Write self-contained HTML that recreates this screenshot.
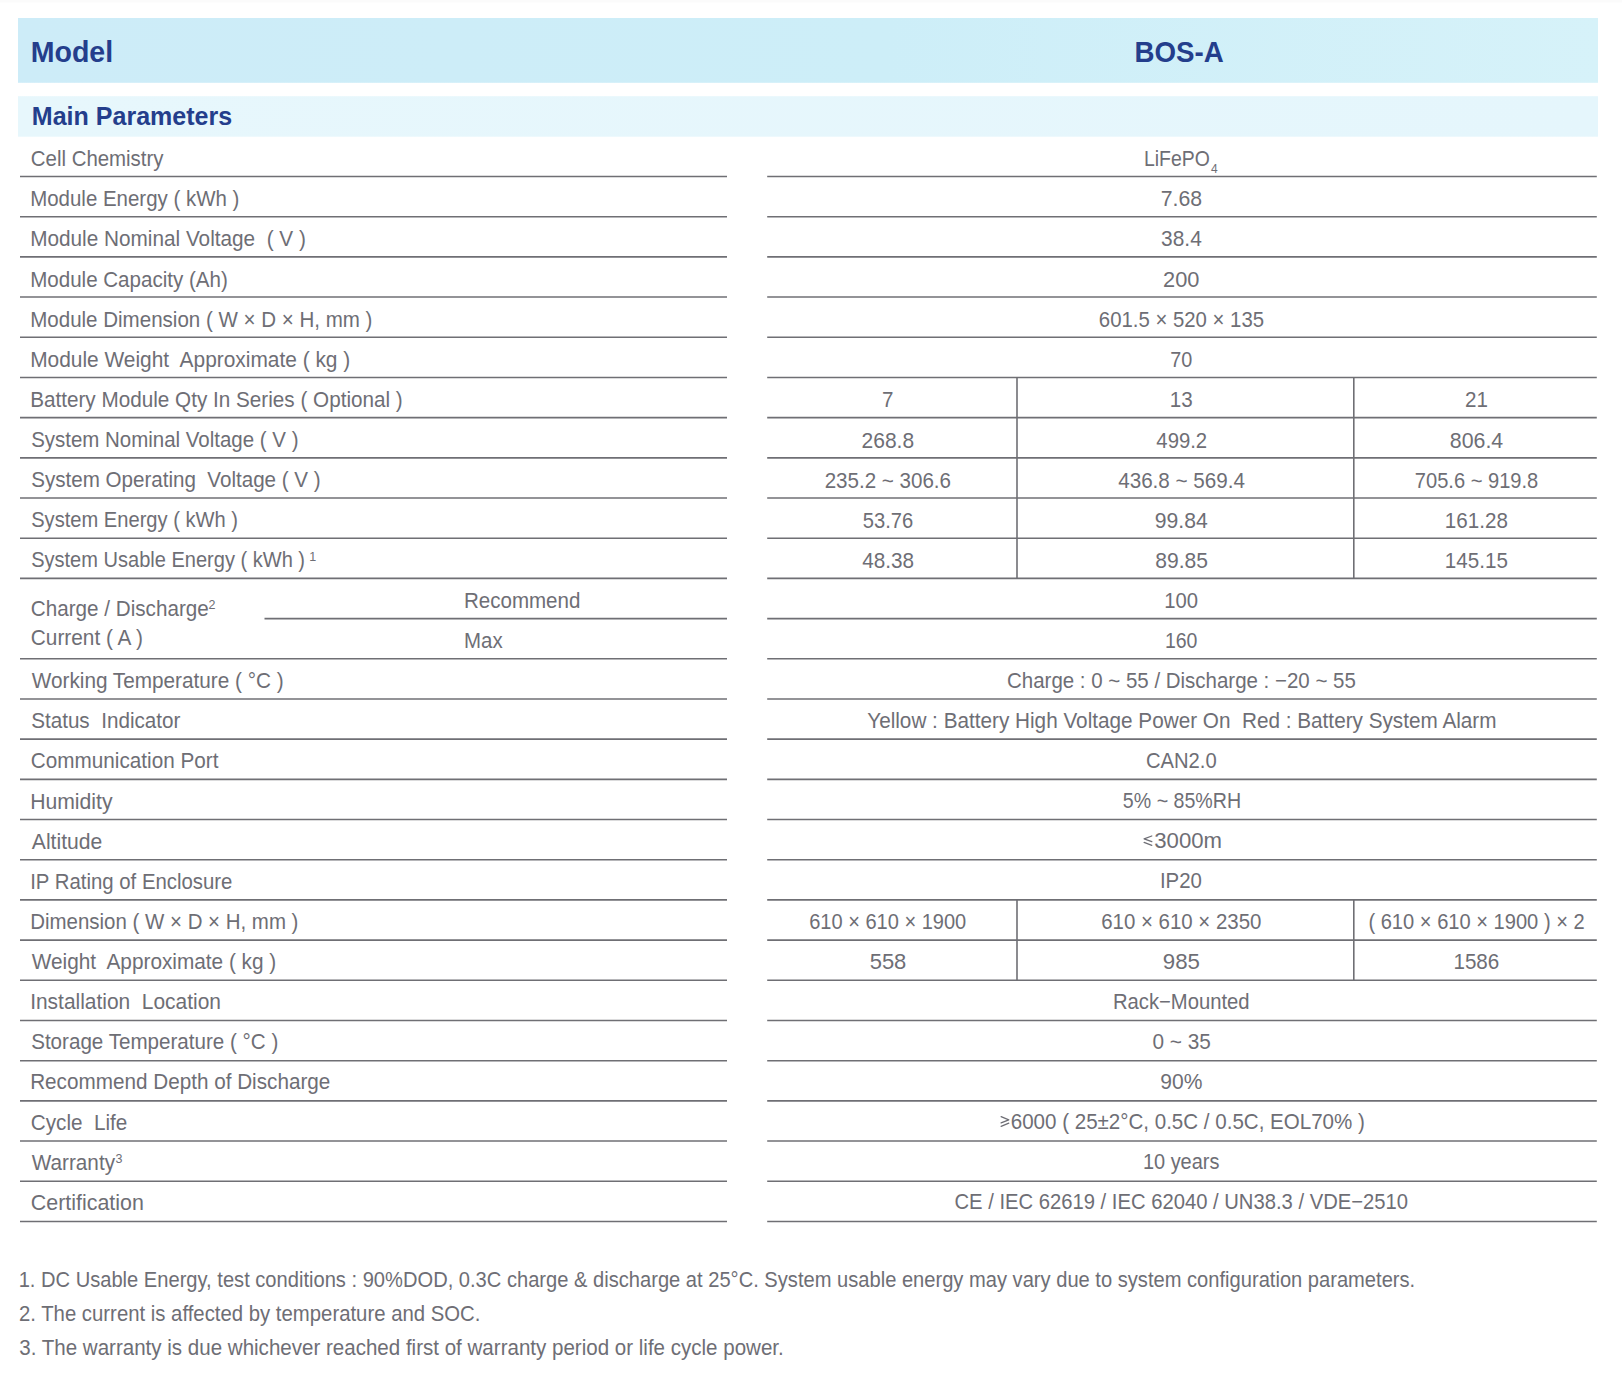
<!DOCTYPE html>
<html><head><meta charset="utf-8"><title>BOS-A</title>
<style>
html,body{margin:0;padding:0;background:#fff;width:1622px;height:1380px;overflow:hidden}
svg{position:absolute;left:0;top:0;display:block}
text{font-family:"Liberation Sans",sans-serif;white-space:pre}
</style></head><body>
<svg width="1622" height="1380" viewBox="0 0 1622 1380">
<defs>
<linearGradient id="g1" x1="0" x2="1" y1="0" y2="0">
<stop offset="0" stop-color="#cdecf8"/><stop offset="0.55" stop-color="#cdeef8"/><stop offset="1" stop-color="#d6f2f9"/>
</linearGradient>
<linearGradient id="g2" x1="0" x2="1" y1="0" y2="0">
<stop offset="0" stop-color="#e7f7fc"/><stop offset="1" stop-color="#e5f6fc"/>
</linearGradient>
</defs>
<rect x="0" y="0" width="1622" height="2.5" fill="#fbfbfb"/>
<rect x="18" y="18" width="1580" height="64.8" fill="url(#g1)"/>
<rect x="18" y="96.2" width="1580" height="40.5" fill="url(#g2)"/>
<path d="M1151.8,836.0 L1144.1,838.8 L1151.8,841.7 M1144.1,842.4 L1151.8,845.3 M1001.1,1116.7 L1008.8,1119.8 L1001.1,1122.9 M1001.1,1126.3 L1008.8,1123.2" stroke="#6e6e75" stroke-width="1.25" fill="none" stroke-linecap="round" stroke-linejoin="round"/>
<g stroke="#6f6f74" stroke-width="1.6" fill="none">
<line x1="20" x2="727" y1="176.50" y2="176.50"/>
<line x1="767.2" x2="1596.8" y1="176.50" y2="176.50"/>
<line x1="20" x2="727" y1="216.69" y2="216.69"/>
<line x1="767.2" x2="1596.8" y1="216.69" y2="216.69"/>
<line x1="20" x2="727" y1="256.88" y2="256.88"/>
<line x1="767.2" x2="1596.8" y1="256.88" y2="256.88"/>
<line x1="20" x2="727" y1="297.07" y2="297.07"/>
<line x1="767.2" x2="1596.8" y1="297.07" y2="297.07"/>
<line x1="20" x2="727" y1="337.26" y2="337.26"/>
<line x1="767.2" x2="1596.8" y1="337.26" y2="337.26"/>
<line x1="20" x2="727" y1="377.45" y2="377.45"/>
<line x1="767.2" x2="1596.8" y1="377.45" y2="377.45"/>
<line x1="20" x2="727" y1="417.64" y2="417.64"/>
<line x1="767.2" x2="1596.8" y1="417.64" y2="417.64"/>
<line x1="20" x2="727" y1="457.83" y2="457.83"/>
<line x1="767.2" x2="1596.8" y1="457.83" y2="457.83"/>
<line x1="20" x2="727" y1="498.02" y2="498.02"/>
<line x1="767.2" x2="1596.8" y1="498.02" y2="498.02"/>
<line x1="20" x2="727" y1="538.21" y2="538.21"/>
<line x1="767.2" x2="1596.8" y1="538.21" y2="538.21"/>
<line x1="20" x2="727" y1="578.40" y2="578.40"/>
<line x1="767.2" x2="1596.8" y1="578.40" y2="578.40"/>
<line x1="264.5" x2="727" y1="618.59" y2="618.59"/>
<line x1="767.2" x2="1596.8" y1="618.59" y2="618.59"/>
<line x1="20" x2="727" y1="658.78" y2="658.78"/>
<line x1="767.2" x2="1596.8" y1="658.78" y2="658.78"/>
<line x1="20" x2="727" y1="698.97" y2="698.97"/>
<line x1="767.2" x2="1596.8" y1="698.97" y2="698.97"/>
<line x1="20" x2="727" y1="739.16" y2="739.16"/>
<line x1="767.2" x2="1596.8" y1="739.16" y2="739.16"/>
<line x1="20" x2="727" y1="779.35" y2="779.35"/>
<line x1="767.2" x2="1596.8" y1="779.35" y2="779.35"/>
<line x1="20" x2="727" y1="819.54" y2="819.54"/>
<line x1="767.2" x2="1596.8" y1="819.54" y2="819.54"/>
<line x1="20" x2="727" y1="859.73" y2="859.73"/>
<line x1="767.2" x2="1596.8" y1="859.73" y2="859.73"/>
<line x1="20" x2="727" y1="899.92" y2="899.92"/>
<line x1="767.2" x2="1596.8" y1="899.92" y2="899.92"/>
<line x1="20" x2="727" y1="940.11" y2="940.11"/>
<line x1="767.2" x2="1596.8" y1="940.11" y2="940.11"/>
<line x1="20" x2="727" y1="980.30" y2="980.30"/>
<line x1="767.2" x2="1596.8" y1="980.30" y2="980.30"/>
<line x1="20" x2="727" y1="1020.49" y2="1020.49"/>
<line x1="767.2" x2="1596.8" y1="1020.49" y2="1020.49"/>
<line x1="20" x2="727" y1="1060.68" y2="1060.68"/>
<line x1="767.2" x2="1596.8" y1="1060.68" y2="1060.68"/>
<line x1="20" x2="727" y1="1100.87" y2="1100.87"/>
<line x1="767.2" x2="1596.8" y1="1100.87" y2="1100.87"/>
<line x1="20" x2="727" y1="1141.06" y2="1141.06"/>
<line x1="767.2" x2="1596.8" y1="1141.06" y2="1141.06"/>
<line x1="20" x2="727" y1="1181.25" y2="1181.25"/>
<line x1="767.2" x2="1596.8" y1="1181.25" y2="1181.25"/>
<line x1="20" x2="727" y1="1221.44" y2="1221.44"/>
<line x1="767.2" x2="1596.8" y1="1221.44" y2="1221.44"/>
<line x1="1017" x2="1017" y1="377.45" y2="578.40"/>
<line x1="1017" x2="1017" y1="899.92" y2="980.30"/>
<line x1="1353.8" x2="1353.8" y1="377.45" y2="578.40"/>
<line x1="1353.8" x2="1353.8" y1="899.92" y2="980.30"/>
</g>
<g>
<text x="30.72" y="62.20" font-size="30" font-weight="bold" fill="#243e8c" textLength="82.47" lengthAdjust="spacingAndGlyphs">Model</text>
<text x="1134.47" y="62.20" font-size="30" font-weight="bold" fill="#243e8c" textLength="89.26" lengthAdjust="spacingAndGlyphs">BOS-A</text>
<text x="31.84" y="124.60" font-size="25.7" font-weight="bold" fill="#243e8c" textLength="200.38" lengthAdjust="spacingAndGlyphs">Main Parameters</text>
<text x="30.84" y="166.00" font-size="21.5" fill="#6e6e75" textLength="132.66" lengthAdjust="spacingAndGlyphs">Cell Chemistry</text>
<text x="30.20" y="206.00" font-size="21.5" fill="#6e6e75" textLength="209.16" lengthAdjust="spacingAndGlyphs">Module Energy ( kWh )</text>
<text x="30.18" y="246.00" font-size="21.5" fill="#6e6e75" textLength="275.70" lengthAdjust="spacingAndGlyphs">Module Nominal Voltage  ( V )</text>
<text x="30.19" y="287.00" font-size="21.5" fill="#6e6e75" textLength="197.57" lengthAdjust="spacingAndGlyphs">Module Capacity (Ah)</text>
<text x="30.20" y="327.00" font-size="21.5" fill="#6e6e75" textLength="342.27" lengthAdjust="spacingAndGlyphs">Module Dimension ( W × D × H, mm )</text>
<text x="30.17" y="367.00" font-size="21.5" fill="#6e6e75" textLength="320.10" lengthAdjust="spacingAndGlyphs">Module Weight  Approximate ( kg )</text>
<text x="30.18" y="407.00" font-size="21.5" fill="#6e6e75" textLength="372.59" lengthAdjust="spacingAndGlyphs">Battery Module Qty In Series ( Optional )</text>
<text x="31.16" y="447.00" font-size="21.5" fill="#6e6e75" textLength="267.30" lengthAdjust="spacingAndGlyphs">System Nominal Voltage ( V )</text>
<text x="31.16" y="487.00" font-size="21.5" fill="#6e6e75" textLength="289.51" lengthAdjust="spacingAndGlyphs">System Operating  Voltage ( V )</text>
<text x="31.17" y="527.00" font-size="21.5" fill="#6e6e75" textLength="206.87" lengthAdjust="spacingAndGlyphs">System Energy ( kWh )</text>
<text x="31.17" y="567.00" font-size="21.5" fill="#6e6e75" textLength="273.86" lengthAdjust="spacingAndGlyphs">System Usable Energy ( kWh )</text>
<text x="31.80" y="688.00" font-size="21.5" fill="#6e6e75" textLength="251.87" lengthAdjust="spacingAndGlyphs">Working Temperature ( °C )</text>
<text x="31.15" y="728.00" font-size="21.5" fill="#6e6e75" textLength="149.25" lengthAdjust="spacingAndGlyphs">Status  Indicator</text>
<text x="30.83" y="768.00" font-size="21.5" fill="#6e6e75" textLength="187.60" lengthAdjust="spacingAndGlyphs">Communication Port</text>
<text x="30.15" y="809.00" font-size="21.5" fill="#6e6e75" textLength="82.35" lengthAdjust="spacingAndGlyphs">Humidity</text>
<text x="31.80" y="849.00" font-size="21.5" fill="#6e6e75" textLength="70.46" lengthAdjust="spacingAndGlyphs">Altitude</text>
<text x="30.21" y="889.00" font-size="21.5" fill="#6e6e75" textLength="202.21" lengthAdjust="spacingAndGlyphs">IP Rating of Enclosure</text>
<text x="30.20" y="929.00" font-size="21.5" fill="#6e6e75" textLength="268.26" lengthAdjust="spacingAndGlyphs">Dimension ( W × D × H, mm )</text>
<text x="31.80" y="969.00" font-size="21.5" fill="#6e6e75" textLength="244.47" lengthAdjust="spacingAndGlyphs">Weight  Approximate ( kg )</text>
<text x="30.16" y="1009.00" font-size="21.5" fill="#6e6e75" textLength="190.81" lengthAdjust="spacingAndGlyphs">Installation  Location</text>
<text x="31.16" y="1049.00" font-size="21.5" fill="#6e6e75" textLength="247.11" lengthAdjust="spacingAndGlyphs">Storage Temperature ( °C )</text>
<text x="30.18" y="1089.00" font-size="21.5" fill="#6e6e75" textLength="300.15" lengthAdjust="spacingAndGlyphs">Recommend Depth of Discharge</text>
<text x="30.83" y="1130.00" font-size="21.5" fill="#6e6e75" textLength="96.51" lengthAdjust="spacingAndGlyphs">Cycle  Life</text>
<text x="31.80" y="1170.00" font-size="21.5" fill="#6e6e75" textLength="83.20" lengthAdjust="spacingAndGlyphs">Warranty</text>
<text x="30.80" y="1210.00" font-size="21.5" fill="#6e6e75" textLength="113.01" lengthAdjust="spacingAndGlyphs">Certification</text>
<text x="309.22" y="561.00" font-size="12.5" fill="#6e6e75" textLength="6.95" lengthAdjust="spacingAndGlyphs">1</text>
<text x="115.41" y="1162.60" font-size="12.5" fill="#6e6e75" textLength="6.95" lengthAdjust="spacingAndGlyphs">3</text>
<text x="30.83" y="616.00" font-size="21.5" fill="#6e6e75" textLength="177.90" lengthAdjust="spacingAndGlyphs">Charge / Discharge</text>
<text x="208.41" y="609.00" font-size="12.5" fill="#6e6e75" textLength="6.95" lengthAdjust="spacingAndGlyphs">2</text>
<text x="30.84" y="644.60" font-size="21.5" fill="#6e6e75" textLength="112.21" lengthAdjust="spacingAndGlyphs">Current ( A )</text>
<text x="464.00" y="608.00" font-size="21.5" fill="#6e6e75" textLength="116.36" lengthAdjust="spacingAndGlyphs">Recommend</text>
<text x="464.00" y="648.00" font-size="21.5" fill="#6e6e75" textLength="38.60" lengthAdjust="spacingAndGlyphs">Max</text>
<text x="1160.75" y="206.00" font-size="21.5" fill="#6e6e75" textLength="41.36" lengthAdjust="spacingAndGlyphs">7.68</text>
<text x="1161.10" y="246.00" font-size="21.5" fill="#6e6e75" textLength="40.67" lengthAdjust="spacingAndGlyphs">38.4</text>
<text x="1163.08" y="287.00" font-size="21.5" fill="#6e6e75" textLength="36.36" lengthAdjust="spacingAndGlyphs">200</text>
<text x="1098.85" y="327.00" font-size="21.5" fill="#6e6e75" textLength="165.18" lengthAdjust="spacingAndGlyphs">601.5 × 520 × 135</text>
<text x="1170.27" y="367.00" font-size="21.5" fill="#6e6e75" textLength="22.02" lengthAdjust="spacingAndGlyphs">70</text>
<text x="882.10" y="407.00" font-size="21.5" fill="#6e6e75" textLength="11.46" lengthAdjust="spacingAndGlyphs">7</text>
<text x="1169.81" y="407.00" font-size="21.5" fill="#6e6e75" textLength="22.92" lengthAdjust="spacingAndGlyphs">13</text>
<text x="1465.07" y="407.00" font-size="21.5" fill="#6e6e75" textLength="22.92" lengthAdjust="spacingAndGlyphs">21</text>
<text x="861.57" y="448.00" font-size="21.5" fill="#6e6e75" textLength="52.53" lengthAdjust="spacingAndGlyphs">268.8</text>
<text x="1156.33" y="448.00" font-size="21.5" fill="#6e6e75" textLength="50.84" lengthAdjust="spacingAndGlyphs">499.2</text>
<text x="1449.83" y="448.00" font-size="21.5" fill="#6e6e75" textLength="53.40" lengthAdjust="spacingAndGlyphs">806.4</text>
<text x="824.64" y="488.00" font-size="21.5" fill="#6e6e75" textLength="126.40" lengthAdjust="spacingAndGlyphs">235.2 ~ 306.6</text>
<text x="1118.18" y="488.00" font-size="21.5" fill="#6e6e75" textLength="126.84" lengthAdjust="spacingAndGlyphs">436.8 ~ 569.4</text>
<text x="1414.81" y="488.00" font-size="21.5" fill="#6e6e75" textLength="123.46" lengthAdjust="spacingAndGlyphs">705.6 ~ 919.8</text>
<text x="862.77" y="528.00" font-size="21.5" fill="#6e6e75" textLength="50.45" lengthAdjust="spacingAndGlyphs">53.76</text>
<text x="1154.81" y="528.00" font-size="21.5" fill="#6e6e75" textLength="52.92" lengthAdjust="spacingAndGlyphs">99.84</text>
<text x="1444.86" y="528.00" font-size="21.5" fill="#6e6e75" textLength="63.02" lengthAdjust="spacingAndGlyphs">161.28</text>
<text x="862.23" y="568.00" font-size="21.5" fill="#6e6e75" textLength="51.86" lengthAdjust="spacingAndGlyphs">48.38</text>
<text x="1155.24" y="568.00" font-size="21.5" fill="#6e6e75" textLength="52.71" lengthAdjust="spacingAndGlyphs">89.85</text>
<text x="1444.86" y="568.00" font-size="21.5" fill="#6e6e75" textLength="63.02" lengthAdjust="spacingAndGlyphs">145.15</text>
<text x="1164.24" y="608.00" font-size="21.5" fill="#6e6e75" textLength="33.77" lengthAdjust="spacingAndGlyphs">100</text>
<text x="1164.88" y="648.00" font-size="21.5" fill="#6e6e75" textLength="32.50" lengthAdjust="spacingAndGlyphs">160</text>
<text x="1007.04" y="688.00" font-size="21.5" fill="#6e6e75" textLength="348.79" lengthAdjust="spacingAndGlyphs">Charge : 0 ~ 55 / Discharge : −20 ~ 55</text>
<text x="867.23" y="728.00" font-size="21.5" fill="#6e6e75" textLength="629.29" lengthAdjust="spacingAndGlyphs">Yellow : Battery High Voltage Power On  Red : Battery System Alarm</text>
<text x="1145.90" y="768.00" font-size="21.5" fill="#6e6e75" textLength="70.75" lengthAdjust="spacingAndGlyphs">CAN2.0</text>
<text x="1122.84" y="808.00" font-size="21.5" fill="#6e6e75" textLength="118.31" lengthAdjust="spacingAndGlyphs">5% ~ 85%RH</text>
<text x="1159.95" y="888.00" font-size="21.5" fill="#6e6e75" textLength="42.00" lengthAdjust="spacingAndGlyphs">IP20</text>
<text x="809.16" y="929.00" font-size="21.5" fill="#6e6e75" textLength="157.04" lengthAdjust="spacingAndGlyphs">610 × 610 × 1900</text>
<text x="1101.19" y="929.00" font-size="21.5" fill="#6e6e75" textLength="160.17" lengthAdjust="spacingAndGlyphs">610 × 610 × 2350</text>
<text x="1368.41" y="929.00" font-size="21.5" fill="#6e6e75" textLength="216.26" lengthAdjust="spacingAndGlyphs">( 610 × 610 × 1900 ) × 2</text>
<text x="869.66" y="969.00" font-size="21.5" fill="#6e6e75" textLength="36.68" lengthAdjust="spacingAndGlyphs">558</text>
<text x="1162.86" y="969.00" font-size="21.5" fill="#6e6e75" textLength="37.15" lengthAdjust="spacingAndGlyphs">985</text>
<text x="1453.45" y="969.00" font-size="21.5" fill="#6e6e75" textLength="45.84" lengthAdjust="spacingAndGlyphs">1586</text>
<text x="1112.92" y="1009.00" font-size="21.5" fill="#6e6e75" textLength="136.72" lengthAdjust="spacingAndGlyphs">Rack−Mounted</text>
<text x="1152.45" y="1049.00" font-size="21.5" fill="#6e6e75" textLength="58.29" lengthAdjust="spacingAndGlyphs">0 ~ 35</text>
<text x="1160.26" y="1089.00" font-size="21.5" fill="#6e6e75" textLength="42.11" lengthAdjust="spacingAndGlyphs">90%</text>
<text x="1142.95" y="1169.00" font-size="21.5" fill="#6e6e75" textLength="76.47" lengthAdjust="spacingAndGlyphs">10 years</text>
<text x="954.45" y="1209.00" font-size="21.5" fill="#6e6e75" textLength="453.65" lengthAdjust="spacingAndGlyphs">CE / IEC 62619 / IEC 62040 / UN38.3 / VDE−2510</text>
<text x="1154.31" y="848.00" font-size="21.5" fill="#6e6e75" textLength="67.74" lengthAdjust="spacingAndGlyphs">3000m</text>
<text x="1010.74" y="1129.00" font-size="21.5" fill="#6e6e75" textLength="354.13" lengthAdjust="spacingAndGlyphs">6000 ( 25±2°C, 0.5C / 0.5C, EOL70% )</text>
<text x="1143.98" y="166.00" font-size="21.5" fill="#6e6e75" textLength="65.86" lengthAdjust="spacingAndGlyphs">LiFePO</text>
<text x="1211.01" y="173.00" font-size="12" fill="#6e6e75" textLength="6.67" lengthAdjust="spacingAndGlyphs">4</text>
<text x="18.64" y="1287.00" font-size="21.5" fill="#6e6e75" textLength="1396.57" lengthAdjust="spacingAndGlyphs">1. DC Usable Energy, test conditions : 90%DOD, 0.3C charge &amp; discharge at 25°C. System usable energy may vary due to system configuration parameters.</text>
<text x="18.95" y="1321.00" font-size="21.5" fill="#6e6e75" textLength="461.49" lengthAdjust="spacingAndGlyphs">2. The current is affected by temperature and SOC.</text>
<text x="19.26" y="1355.00" font-size="21.5" fill="#6e6e75" textLength="764.50" lengthAdjust="spacingAndGlyphs">3. The warranty is due whichever reached first of warranty period or life cycle power.</text>
</g>
</svg>
</body></html>
